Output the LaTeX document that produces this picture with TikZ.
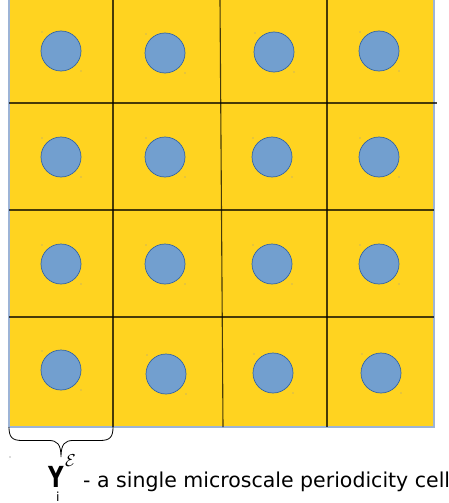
\documentclass[tikz,border=0pt]{standalone}
\usepackage{graphicx}
\usepackage{fontspec}
\setmainfont{DejaVu Sans}
\usetikzlibrary{positioning}
\definecolor{matrixyellow}{HTML}{FFD320}
\definecolor{incfill}{HTML}{729FCF}
\definecolor{incline}{HTML}{3465A4}
\definecolor{frameblue}{HTML}{9DB4D6}
\begin{document}
\begin{tikzpicture}[x=1pt,y=-1pt,
  cellline/.style={draw=black,draw opacity=.72,line width=1.1pt},
  inclusion/.style={circle,draw=incline,fill=incfill,line width=.7pt,
    minimum size=40pt,inner sep=0pt},
  speck/.style={fill=black!40},
  label/.style={font=\fontsize{20.5}{20.5}\selectfont,inner sep=0pt}]
\useasboundingbox (0,0) rectangle (449,503);

% Periodic medium: yellow matrix, light frame on three sides.
\fill[matrixyellow] (9,0) rectangle (434,427);
\draw[frameblue,line width=1.3pt] (9,0) -- (9,427) -- (434,427) -- (434,0);

% Cell boundaries, slightly uneven as if drawn by hand.
\draw[cellline] (113,0) -- (113,427);
\draw[cellline] (220,0) -- (223,427);
\draw[cellline] (327,0) -- (327,427);
\draw[cellline] (9,103) -- (437,103);
\draw[cellline] (9,210) -- (434,210);
\draw[cellline] (9,317) -- (434,317);

% One inclusion per cell, with its two stray specks.
\foreach \x/\y/\name in
  {61/51/a1,165/53/a2,274/52/a3,379/51/a4,
   61/157/b1,165/157/b2,272/157/b3,379/157/b4,
   61/264/c1,165/264/c2,272/264/c3,379/264/c4,
   61/370/d1,166/374/d2,273/373/d3,381/373/d4}
{
  \node[inclusion] (inc\name) at (\x,\y) {};
  \fill[speck] (\x-19,\y-19) circle (.6);
  \fill[speck] (\x+20,\y+20) circle (.6);
}

% Brace under the first cell.
\coordinate (braceL) at (9,427);
\coordinate (braceR) at (113,427);
\coordinate (braceTip) at (61,457);
\draw[black,line width=.8pt] (braceL)
  .. controls (9,437) and (12,440.5) .. (22,440.5) -- (49,440.5)
  .. controls (57,440.5) and (61,444) .. (braceTip)
  .. controls (61,444) and (65,440.5) .. (73,440.5) -- (100,440.5)
  .. controls (110,440.5) and (113,437) .. (braceR);
\fill[black!60] (10,457) circle (.6);

% Caption: cell symbol Y_i^E and its description.
\node[inner sep=0pt,anchor=base west] (cellsym) at (48,487)
  {\fontsize{29}{29}\selectfont\bfseries\scalebox{.74}[1]{Y}%
   \hspace{-7.6pt}\raisebox{-14pt}{\fontsize{12.5}{12.5}\mdseries\selectfont i}%
   \hspace{5.5pt}\raisebox{21pt}{\fontsize{17}{17}\selectfont$\mathcal{E}$}};
\node[label,anchor=base west] (caption) at (83,487)
  {- a single microscale periodicity cell};
\end{tikzpicture}
\end{document}
